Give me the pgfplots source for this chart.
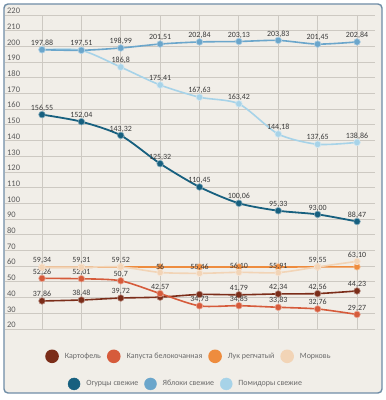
\documentclass[border=0pt]{standalone}
\usepackage{fontspec}
\setmainfont{Carlito}
\usepackage{pgfplots}
\usepackage{pgfplotstable}
\pgfplotsset{compat=1.18}
\definecolor{bgc}{HTML}{F1EEE8}
\definecolor{framec}{HTML}{6F8DA6}
\definecolor{gridc}{HTML}{CDC9C2}
\definecolor{tickc}{HTML}{5A5A5A}
\definecolor{labc}{HTML}{3A3A3A}
\definecolor{legc}{HTML}{6A6A6A}
\definecolor{potc}{HTML}{7B2D19}
\definecolor{cabc}{HTML}{D65B3B}
\definecolor{onic}{HTML}{EE8C3E}
\definecolor{carc}{HTML}{F2D4B6}
\definecolor{cucc}{HTML}{17607F}
\definecolor{appc}{HTML}{6BA6CB}
\definecolor{tomc}{HTML}{A7D3E8}

\pgfplotstableread{
x y lab
1 37.86 37,86
2 38.48 38,48
3 39.72 39,72
4 40.30 {}
5 42.00 {}
6 41.79 41,79
7 42.34 42,34
8 42.56 42,56
9 44.23 44,23
}\potato
\pgfplotstableread{
x y lab
1 52.26 52,26
2 52.01 52,01
3 50.70 50,7
4 42.57 42,57
5 34.73 34,73
6 34.85 34,85
7 33.83 33,83
8 32.76 32,76
9 29.27 29,27
}\cabbage
\pgfplotstableread{
x y
1 59.34
2 59.31
3 59.52
4 59.50
5 59.50
6 59.50
7 59.50
8 59.55
9 59.60
}\onion
\pgfplotstableread{
x y lab
1 59.34 59,34
2 59.31 59,31
3 59.52 59,52
4 56.00 56
5 55.46 55,46
6 56.10 56,10
7 55.91 55,91
8 59.55 59,55
9 63.10 63,10
}\carrot
\pgfplotstableread{
x y lab
1 156.55 156,55
2 152.04 152,04
3 143.32 143,32
4 125.32 125,32
5 110.45 110,45
6 100.06 100,06
7 95.33 95,33
8 93.00 93,00
9 88.47 88,47
}\cucumber
\pgfplotstableread{
x y lab
1 197.88 197,88
2 197.51 197,51
3 198.99 198,99
4 201.51 201,51
5 202.84 202,84
6 203.13 203,13
7 203.83 203,83
8 201.45 201,45
9 202.84 202,84
}\apple
\pgfplotstableread{
x y lab
1 197.88 {}
2 197.51 {}
3 186.80 186,8
4 175.41 175,41
5 167.63 167,63
6 163.42 163,42
7 144.18 144,18
8 137.65 137,65
9 138.86 138,86
}\tomato

\pgfplotsset{
  ser/.style={color=#1, line width=1.6bp, smooth, tension=0.45, mark=*, mark size=3.3bp,
    mark options={fill=#1, draw=white!45!#1, line width=0.6bp}},
  lbl/.style={nodes near coords, point meta=explicit symbolic,
    every node near coord/.append style={font=\fontsize{8}{9}\selectfont, text=labc, inner sep=1bp, anchor=south, yshift=2bp}},
}

\begin{document}
\begin{tikzpicture}
\fill[white] (0,0) rectangle (386bp,400bp);
\draw[rounded corners=4bp, draw=framec, line width=1.4bp, fill=bgc] (4bp,7bp) rectangle (382bp,396bp);
\begin{axis}[
  at={(5bp,71bp)}, anchor=south west,
  scale only axis, width=370bp, height=314bp,
  xmin=0.06, xmax=9.457, ymin=20, ymax=220,
  xtick={1,...,9}, xticklabels={},
  ytick={20,30,...,220},
  grid=major,
  major grid style={draw=gridc, line width=0.9bp},
  axis line style={draw=none},
  major tick length=0pt,
  yticklabel style={anchor=south west, inner sep=1bp, xshift=1bp, font=\fontsize{8.5}{10}\selectfont, text=tickc},
  /pgf/number format/assume math mode=true,
  clip=false,
  legend columns=4,
  legend style={draw=none, fill=none, at={(0.497,-0.087)}, anchor=center,
    font=\fontsize{8}{9.6}\selectfont, text=legc,
    /tikz/every odd column/.append style={column sep=4bp},
    /tikz/every even column/.append style={column sep=4bp}},
  legend image code/.code={\fill (6bp,0bp) circle (6bp);},
]
\addplot[ser=potc, lbl] table[x=x, y=y, meta=lab] {\potato};
\addplot[ser=cabc, lbl] table[x=x, y=y, meta=lab] {\cabbage};
\addplot[ser=onic] table[x=x, y=y] {\onion};
\addplot[ser=carc, lbl] table[x=x, y=y, meta=lab] {\carrot};
\addplot[ser=cucc, line width=1.8bp, lbl] table[x=x, y=y, meta=lab] {\cucumber};
\addplot[ser=tomc, lbl] table[x=x, y=y, meta=lab] {\tomato};
\addplot[ser=appc, lbl] table[x=x, y=y, meta=lab] {\apple};
\legend{Картофель, Капуста белокочанная, Лук репчатый, Морковь}
\end{axis}
\begin{axis}[
  at={(5bp,71bp)}, anchor=south west,
  scale only axis, width=370bp, height=314bp,
  xmin=0, xmax=1, ymin=0, ymax=1, hide axis,
  legend columns=3,
  legend style={draw=none, fill=none, at={(0.489,-0.175)}, anchor=center,
    font=\fontsize{8}{9.6}\selectfont, text=legc,
    /tikz/every odd column/.append style={column sep=4bp},
    /tikz/every even column/.append style={column sep=4bp}},
  legend image code/.code={\fill (6bp,0bp) circle (6bp);},
]
\addlegendimage{color=cucc}
\addlegendentry{Огурцы свежие}
\addlegendimage{color=appc}
\addlegendentry{Яблоки свежие}
\addlegendimage{color=tomc}
\addlegendentry{Помидоры свежие}
\end{axis}
\pgfresetboundingbox
\useasboundingbox (0,0) rectangle (386bp,400bp);
\end{tikzpicture}
\end{document}
